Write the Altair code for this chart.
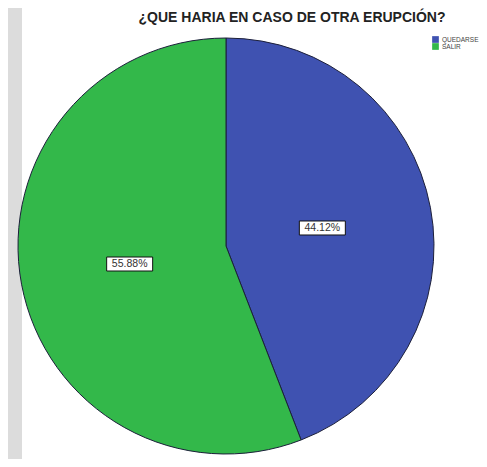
import altair as alt
import pandas as pd

categories = ["QUEDARSE", "SALIR"]
percentages = [44.12, 55.88]
colors = ["#3F52B1", "#33B84A"]
title_text = "¿QUE HARIA EN CASO DE OTRA ERUPCIÓN?"

df = pd.DataFrame({"cat": categories, "pct": percentages, "idx": list(range(len(categories)))})

CX, CY, R, LR = 218, 238, 208, 98

base = alt.Chart(df)

panel = base.transform_filter("datum.idx == 0").mark_rect(fill="white").encode(
    x=alt.value(14), x2=alt.value(480), y=alt.value(-2), y2=alt.value(452)
)

pie = base.mark_arc(stroke="#1c1f3a", strokeWidth=1).encode(
    theta=alt.Theta("pct:Q", stack=True),
    color=alt.Color(
        "cat:N",
        scale=alt.Scale(domain=categories, range=colors),
        legend=alt.Legend(
            title=None, orient="none", legendX=424, legendY=28,
            symbolType="square", symbolSize=45, symbolStrokeWidth=0,
            labelFontSize=6.5, labelColor="#444", labelFont="Liberation Sans",
            rowPadding=0, labelOffset=3,
        ),
    ),
    order=alt.Order("idx:Q"),
    x=alt.value(CX), y=alt.value(CY), radius=alt.value(R),
)

lab = base.transform_window(
    cum="sum(pct)", sort=[alt.SortField("idx")]
).transform_calculate(
    mid="(datum.cum - datum.pct/2)/100*2*PI",
    lx=f"{CX} + {LR}*sin(datum.mid)",
    ly=f"{CY} - {LR}*cos(datum.mid)",
    bx1="datum.lx - 23", bx2="datum.lx + 23",
    by1="datum.ly - 7", by2="datum.ly + 7",
    label="format(datum.pct, '.2f') + '%'",
)

boxes = lab.mark_rect(fill="white", stroke="#111", strokeWidth=1).encode(
    x=alt.X("bx1:Q", scale=None), x2="bx2:Q",
    y=alt.Y("by1:Q", scale=None), y2="by2:Q",
)

texts = lab.mark_text(fontSize=10.5, font="Liberation Sans", color="#333").encode(
    x=alt.X("lx:Q", scale=None), y=alt.Y("ly:Q", scale=None), text="label:N"
)

title = base.transform_filter("datum.idx == 0").mark_text(
    fontSize=14, fontWeight="bold", font="Liberation Sans", color="#222"
).encode(x=alt.value(284), y=alt.value(10), text=alt.value(title_text))

chart = alt.layer(panel, pie, boxes, texts, title).properties(
    width=471, height=451, padding=0, autosize=alt.AutoSizeParams(type="none"),
    background="#dcdcdc",
).configure_view(stroke=None)

chart.save("out.html", embed_options={"renderer": "svg", "actions": False})
